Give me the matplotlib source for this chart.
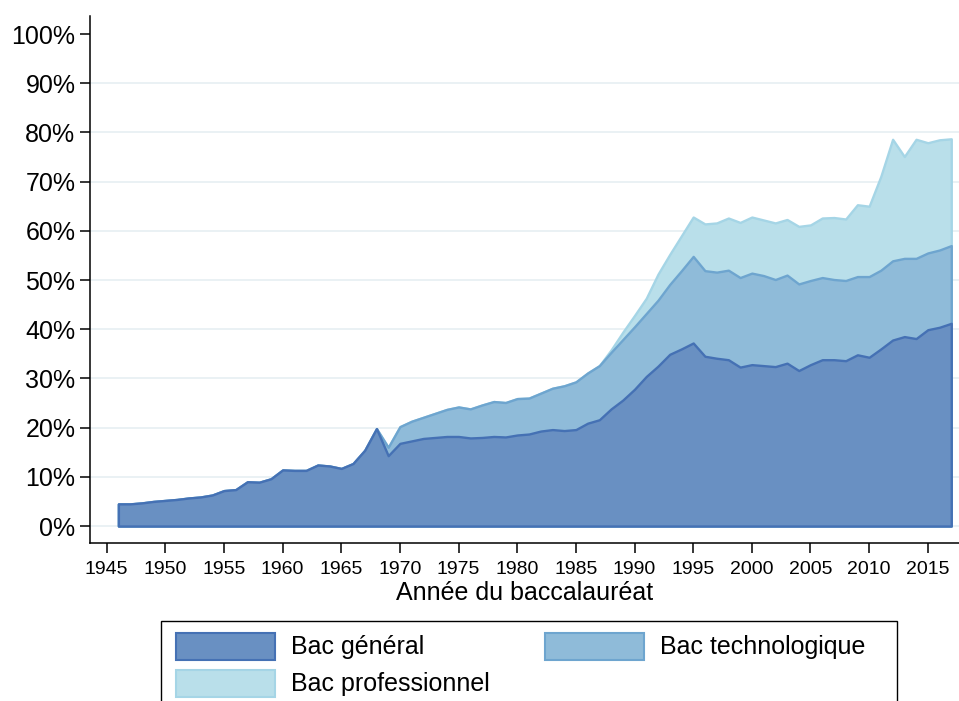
import numpy as np
import matplotlib
matplotlib.use('Agg')
import matplotlib.pyplot as plt
from matplotlib.patches import Rectangle
from matplotlib.ticker import FuncFormatter

plt.rcParams['font.family'] = ['Liberation Sans', 'DejaVu Sans']

# Part des bacheliers dans une génération (%), par type de bac
annees = np.arange(1946, 2018)
general = [4.5, 4.5, 4.7, 5.0, 5.2, 5.4, 5.7, 5.9, 6.3, 7.2,
           7.4, 9.0, 8.9, 9.6, 11.4, 11.3, 11.3, 12.4, 12.2, 11.7,
           12.7, 15.4, 19.8, 14.3, 16.8, 17.3, 17.8, 18.0, 18.2, 18.2,
           17.9, 18.0, 18.2, 18.1, 18.5, 18.7, 19.3, 19.6, 19.4, 19.6,
           20.9, 21.6, 23.8, 25.6, 27.8, 30.4, 32.5, 34.9, 36.0, 37.2,
           34.5, 34.1, 33.8, 32.3, 32.8, 32.6, 32.4, 33.1, 31.6, 32.8,
           33.8, 33.8, 33.6, 34.8, 34.3, 36.0, 37.8, 38.5, 38.1, 39.9,
           40.4, 41.2]
# bac technologique : à partir de 1969
techno = [0.0] * 23 + [1.7, 3.4, 4.0, 4.3, 4.9, 5.5, 6.0, 5.9, 6.6, 7.1,
                       7.0, 7.4, 7.3, 7.7, 8.4, 9.1, 9.7, 10.2, 11.0, 11.5,
                       12.3, 12.7, 12.8, 13.4, 14.2, 15.9, 17.6, 17.4, 17.5, 18.2,
                       18.2, 18.6, 18.3, 17.7, 17.9, 17.6, 17.1, 16.7, 16.3, 16.3,
                       15.9, 16.4, 16.0, 16.1, 15.9, 16.3, 15.6, 15.7, 15.8]
# bac professionnel : à partir de 1988
pro = [0.0] * 42 + [0.5, 1.5, 2.3, 3.1, 5.3, 6.1, 7.1, 8.0, 9.5, 10.0,
                    10.6, 11.2, 11.4, 11.3, 11.5, 11.3, 11.7, 11.3, 12.1, 12.6,
                    12.5, 14.6, 14.3, 19.1, 24.7, 20.7, 24.2, 22.4, 22.4, 21.7]

labels = ['Bac général', 'Bac technologique', 'Bac professionnel']
fills = ['#6990c2', '#8fbbd9', '#b9dfea']
edges = ['#4571b4', '#6ea5cf', '#a5d5e6']

cum_gen = np.array(general)
cum_tech = cum_gen + np.array(techno)
cum_pro = cum_tech + np.array(pro)

W, H = 959, 701
fig = plt.figure(figsize=(W / 100, H / 100), dpi=100)
ax = fig.add_axes([90 / W, 158.3 / H, 869 / W, (685 - 158.3) / H])

# grille horizontale (sans 100%)
for v in range(0, 100, 10):
    ax.axhline(v, color='#eaf1f4', lw=1.4, zorder=0)

# aires empilées, de la plus haute à la plus basse
for cum, fc, ec in zip([cum_pro, cum_tech, cum_gen], fills[::-1], edges[::-1]):
    ax.fill_between(annees, 0, cum, facecolor=fc, edgecolor=ec, lw=1.7, zorder=2)

ax.set_xlim(1943.58, 2017.66)
ax.set_ylim(-3.39, 103.66)
ax.set_xticks(np.arange(1945, 2016, 5))
ax.set_yticks(np.arange(0, 101, 10))
ax.yaxis.set_major_formatter(FuncFormatter(lambda v, p: f'{int(v)}%'))
ax.tick_params(axis='y', labelsize=18, length=7.5, width=1.1, pad=3)
ax.tick_params(axis='x', labelsize=14, length=7.5, width=1.1, pad=6)
for s in ['top', 'right']:
    ax.spines[s].set_visible(False)
for s in ['left', 'bottom']:
    ax.spines[s].set_linewidth(1.1)
ax.set_xlabel('Année du baccalauréat', fontsize=18, labelpad=2)

# légende dessinée à la main (cadre coupé en bas de l'image)
def fx(x):
    return x / W

def fy(y):
    return 1 - y / H

fig.add_artist(Rectangle((fx(161), fy(712)), (897 - 161) / W, 91 / H,
                         transform=fig.transFigure, facecolor='white',
                         edgecolor='black', lw=1.0))
pos = [(176, 633), (545, 633), (176, 670)]
for (x0, y0), lab, fc, ec in zip(pos, labels, fills, edges):
    fig.add_artist(Rectangle((fx(x0), fy(y0 + 27)), 99 / W, 27 / H,
                             transform=fig.transFigure, facecolor=fc,
                             edgecolor=ec, lw=1.5))
    fig.text(fx(x0 + 115), fy(y0 + 14), lab, fontsize=18, va='center', ha='left')

fig.savefig('out.png', dpi=100)
